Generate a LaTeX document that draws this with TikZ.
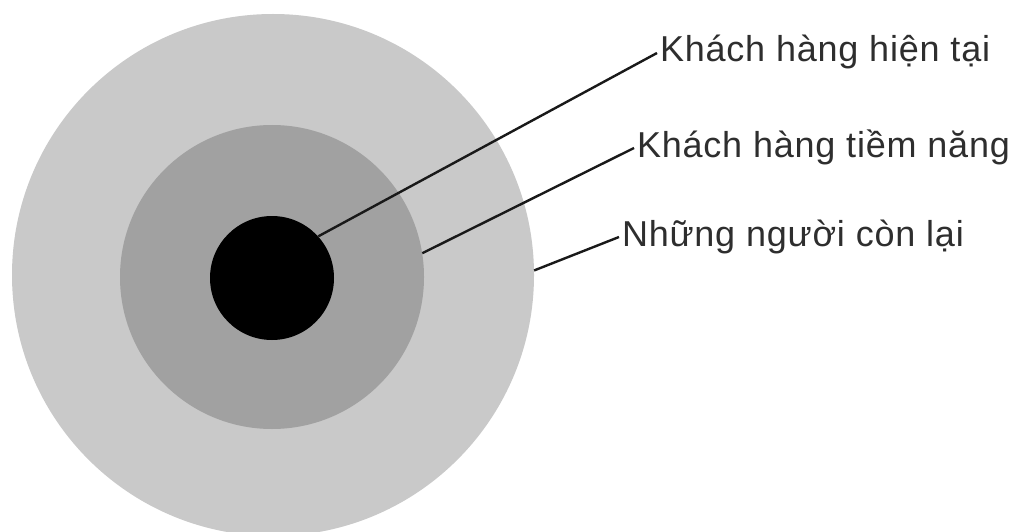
\documentclass[tikz,border=0pt]{standalone}
\usepackage{fontspec}
\setmainfont{Liberation Sans}
\newfontfamily\lblfont[LetterSpace=2.2]{Liberation Sans}
\begin{document}
\begin{tikzpicture}[x=1pt,y=-1pt,
  ring/.style={circle,draw=none,inner sep=0pt},
  lbl/.style={anchor=west,inner sep=0pt,outer sep=3pt,font=\lblfont\fontsize{36}{40}\selectfont,text height=26pt,text depth=8pt,text=black!82},
  lead/.style={draw=black!90,line width=2.4pt}]
\useasboundingbox (0,0) rectangle (1019,532);
\fill[white] (0,0) rectangle (1019,532);
\clip (0,0) rectangle (1019,532);
\node[ring,fill=black!21,minimum size=522pt] (outer) at (273,275) {};
\node[ring,fill=black!37,minimum size=304pt] (middle) at (272,277) {};
\node[ring,fill=black,minimum size=124pt] (inner) at (272,278) {};
\node[lbl] (t1) at (657,53) {Khách hàng hiện tại};
\node[lbl] (t2) at (634,148) {Khách hàng tiềm năng};
\node[lbl] (t3) at (619,237) {Những người còn lại};
\draw[lead] (inner.42) -- (t1.west);
\draw[lead] (middle.9) -- (t2.west);
\draw[lead] (outer.1.5) -- (t3.west);
\end{tikzpicture}
\end{document}
